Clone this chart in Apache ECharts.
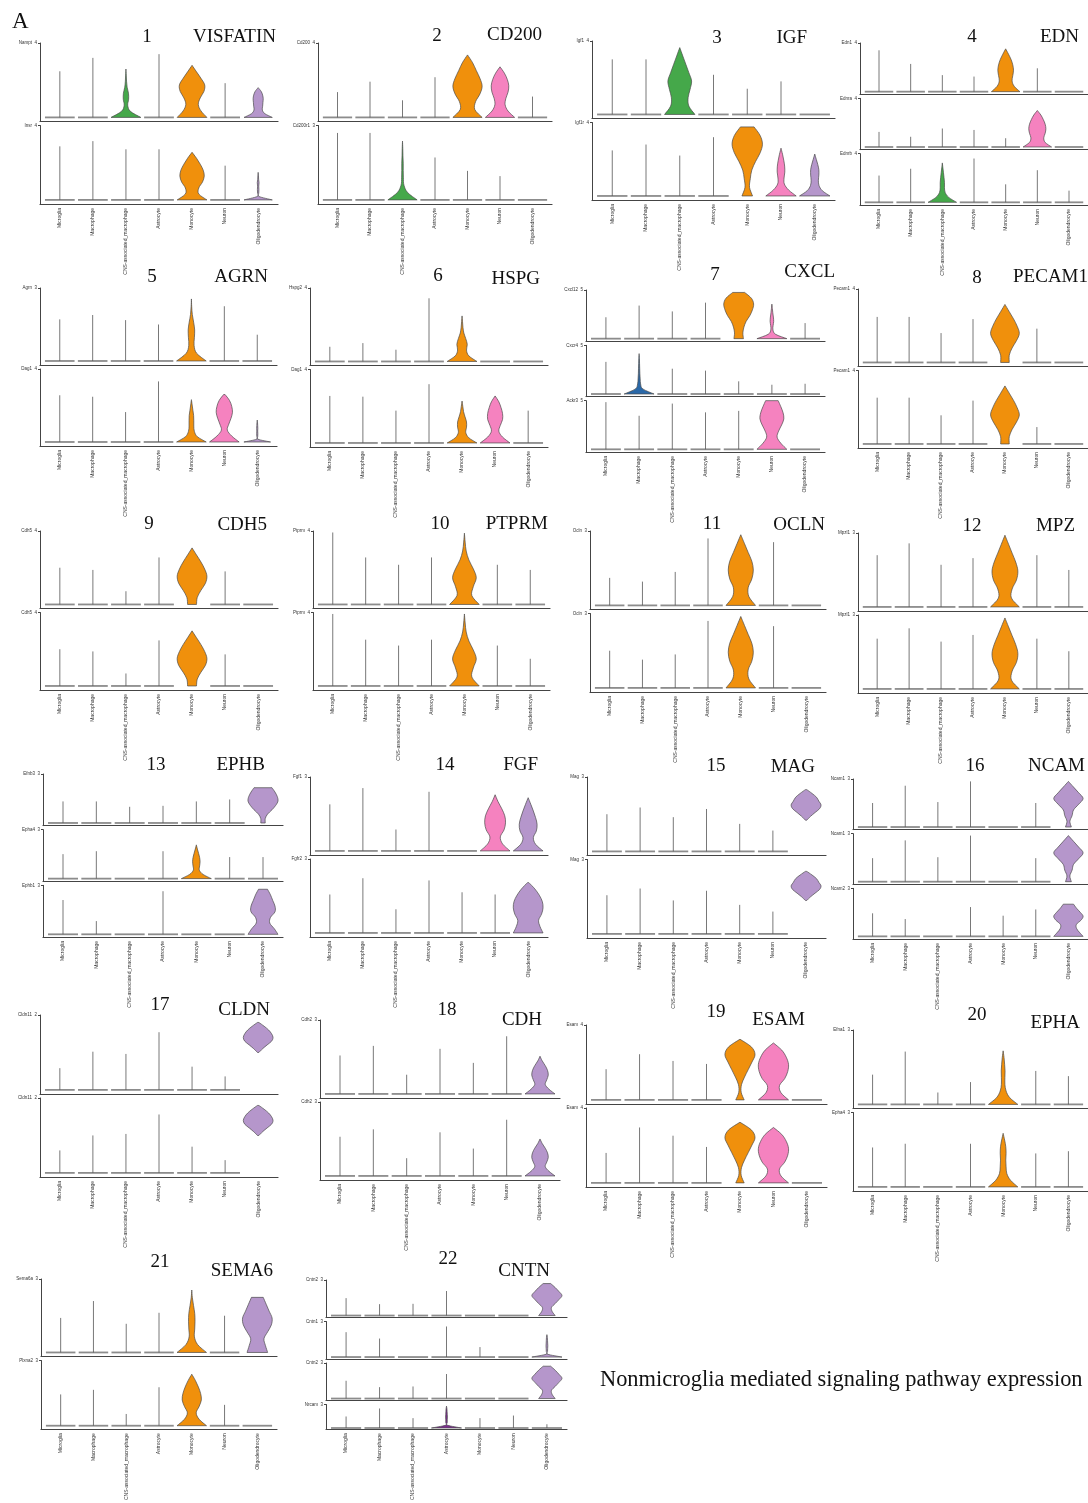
<!DOCTYPE html>
<html><head><meta charset="utf-8">
<script src="https://cdn.jsdelivr.net/npm/echarts@6/dist/echarts.min.js"></script>
<style>html,body{margin:0;padding:0;background:#fff}#c{width:1088px;height:1503px}</style>
</head><body><div id="c"></div><script>
const cellTypes = ['Microglia','Macrophage','CNS-associated_macrophage','Astrocyte','Monocyte','Neuron','Oligodendrocyte'];
const cellColors = ['#e8493f','#2a68a8','#45a84a','#7b2d8e','#f0900c','#f582bf','#b596cb'];
const panelNames = ['VISFATIN','CD200','IGF','EDN','AGRN','HSPG','CXCL','PECAM1','CDH5','PTPRM','OCLN','MPZ','EPHB','FGF','MAG','NCAM','CLDN','CDH','ESAM','EPHA','SEMA6','CNTN'];
const panelGenes = [
 ['Nampt','Insr'],['Cd200','Cd200r1'],['Igf1','Igf1r'],['Edn1','Ednra','Ednrb'],['Agrn','Dag1'],['Hspg2','Dag1'],
 ['Cxcl12','Cxcr4','Ackr3'],['Pecam1','Pecam1'],['Cdh5','Cdh5'],['Ptprm','Ptprm'],['Ocln','Ocln'],['Mpzl1','Mpzl1'],
 ['Efnb3','Epha4','Ephb1'],['Fgf1','Fgfr2'],['Mag','Mag'],['Ncam1','Ncam1','Ncam2'],['Cldn11','Cldn11'],['Cdh2','Cdh2'],
 ['Esam','Esam'],['Efna1','Epha4'],['Sema6a','Plxna2'],['Cntn2','Cntn1','Cntn2','Nrcam']
];
const geneTicks = [[4,4],[4,3],[4,4],[4,4,4],[3,4],[4,4],[5,5,5],[4,4],[4,4],[4,4],[3,3],[3,3],[3,3,3],[3,3],[3,3],[3,3,3],[2,2],[3,3],[4,4],[3,3],[3,3],[3,3,3,3]];
// maximum expression per cell type (order of cellTypes), per gene
const lineTops = [
 [[2.48,3.2,2.6,3.4,2.8,1.84,1.6],[2.88,3.16,2.72,2.72,2.56,1.84,1.48]],
 [[1.36,1.92,0.92,2.16,3.36,2.72,1.12],[2.7,2.7,2.37,1.71,1.17,0.96,0]],
 [[3,3,3.64,2.16,1.4,1.8,0],[2.48,2.8,2.2,3.2,3.76,2.6,2.28]],
 [[3.4,2.28,1.36,1.24,3.52,1.92,0],[1.24,0.84,1.52,1.4,0.72,3,0],[2.2,2.76,3.24,3.6,1.48,2.64,0.96]],
 [[1.71,1.89,1.68,1.5,2.55,2.25,1.08],[2.56,2.48,1.64,3.32,2.32,2.6,1.2]],
 [[0.8,1.0,0.64,3.44,2.48,0,0],[2.56,2.52,1.76,3.2,2.28,2.56,1.76]],
 [[2.2,3.4,2.8,3.7,4.75,3.55,1.6],[3.3,4.15,2.6,2.4,1.3,0.95,1.05],[4.85,3.45,4.7,3.8,3.95,5,0]],
 [[2.48,2.48,1.6,2.36,3.16,1.84,0],[2.52,2.52,1.56,2.36,3.16,0.92,0]],
 [[2,1.88,0.72,2.56,3.08,1.8,0],[2,1.88,0.68,2.48,3,1.72,0]],
 [[3.92,2.56,2.16,2.56,3.88,2.16,1.88],[3.92,2.52,2.2,2.52,3.92,2.2,1.48]],
 [[1.11,0.96,1.35,2.7,2.85,2.55,0],[1.5,1.14,1.35,2.7,2.88,2.49,0]],
 [[2.1,2.58,1.71,1.98,2.91,2.1,1.5],[2.04,2.46,1.92,2.19,2.88,2.04,1.53]],
 [[1.32,1.32,0.99,1.05,1.32,1.44,2.16],[1.5,1.68,0,1.68,2.07,1.32,1.32],[2.1,0.81,0,2.64,0,0,2.76]],
 [[1.89,2.55,0.87,2.4,0,2.28,2.16],[1.56,2.22,0.96,2.13,1.65,1.56,2.04]],
 [[1.5,1.77,1.38,1.71,1.11,0.84,2.49],[1.56,1.83,1.35,1.74,1.17,0.9,2.52]],
 [[1.5,2.58,1.56,2.85,0,1.5,2.85],[1.47,2.58,1.53,2.88,0,1.47,2.88],[1.44,1.08,0,1.83,1.29,1.68,2.01]],
 [[0.58,1.02,0.96,1.54,0.62,0.36,1.8],[0.6,1.0,1.04,1.56,0.7,0.34,1.8]],
 [[1.56,1.95,0.78,1.83,1.26,2.34,1.53],[1.59,1.89,0.72,1.77,1.11,2.28,1.5]],
 [[1.64,2.44,2.08,1.92,3.24,3.04,0],[1.6,2.96,2.52,1.92,3.24,2.96,0]],
 [[1.2,2.13,0.48,0.9,2.16,1.35,1.14],[1.59,1.74,0,1.74,2.16,1.35,1.44]],
 [[1.41,2.1,1.17,1.62,2.55,1.5,2.25],[1.44,1.65,0.54,1.77,2.37,0.96,0]],
 [[1.47,0.96,0.99,2.07,0,0,2.7],[2.1,1.56,0,2.58,0.84,0,1.89],[1.5,0.96,1.02,2.07,0,0,2.73],[1.47,2.49,1.26,2.79,1.26,1.59,0.48]]
];
// violin bodies: [panel, gene index, cell index, minimum, relative widths from min to max]
const violinSpecs = [
 [1,0,2,0, 1,0.3,0.12,0.18,0.17,0.08,0.04,0.02,0],
 [1,0,4,0, 1,0.6,0.42,0.55,0.8,0.85,0.6,0.3,0],
 [1,0,6,0, 0.95,0.45,0.28,0.3,0.32,0.34,0.3,0.2,0],
 [1,1,4,0, 1,0.45,0.45,0.7,0.82,0.75,0.55,0.3,0],
 [1,1,6,0, 0.95,0.06,0.04,0.05,0.04,0.06,0.03,0.02,0],
 [2,0,4,0, 1,0.5,0.55,0.85,1,0.85,0.6,0.35,0],
 [2,0,5,0, 1,0.55,0.35,0.4,0.55,0.6,0.5,0.3,0],
 [2,1,2,0, 1,0.35,0.1,0.06,0.05,0.05,0.03,0.02,0],
 [3,0,2,0, 1,0.6,0.55,0.68,0.78,0.6,0.4,0.2,0],
 [3,1,4,0, 0.35,0.15,0.2,0.3,0.55,0.85,1,0.85,0.45],
 [3,1,5,0, 1,0.5,0.22,0.2,0.25,0.24,0.18,0.1,0],
 [3,1,6,0, 1,0.5,0.28,0.24,0.27,0.27,0.2,0.1,0],
 [4,0,4,0, 1,0.6,0.45,0.5,0.55,0.5,0.38,0.2,0],
 [4,1,5,0, 1,0.55,0.45,0.55,0.6,0.55,0.42,0.25,0],
 [4,2,2,0, 1,0.45,0.2,0.15,0.15,0.12,0.08,0.04,0],
 [5,0,4,0, 1,0.35,0.18,0.2,0.22,0.15,0.06,0.02,0],
 [5,1,4,0, 1,0.4,0.2,0.16,0.16,0.15,0.1,0.05,0],
 [5,1,5,0, 1,0.5,0.2,0.3,0.45,0.55,0.5,0.35,0.05],
 [5,1,6,0, 0.9,0.04,0.03,0.04,0.03,0.04,0.03,0.02,0],
 [6,0,4,0, 1,0.45,0.3,0.35,0.25,0.12,0.06,0.03,0],
 [6,1,4,0, 1,0.45,0.25,0.3,0.3,0.2,0.1,0.05,0],
 [6,1,5,0, 1,0.5,0.25,0.35,0.5,0.5,0.4,0.25,0],
 [7,0,4,0, 0.32,0.28,0.35,0.5,0.75,0.92,1,0.85,0.4],
 [7,0,5,0, 1,0.25,0.07,0.08,0.12,0.1,0.06,0.03,0],
 [7,1,1,0, 1,0.25,0.1,0.07,0.05,0.04,0.03,0.02,0],
 [7,2,5,0, 1,0.6,0.35,0.45,0.65,0.8,0.75,0.6,0.42],
 [8,0,4,0, 0.3,0.3,0.5,0.8,1,0.85,0.6,0.3,0],
 [8,1,4,0, 0.3,0.3,0.5,0.8,1,0.85,0.6,0.3,0],
 [9,0,4,0, 0.3,0.35,0.6,0.9,1,0.85,0.6,0.3,0],
 [9,1,4,0, 0.3,0.35,0.6,0.9,1,0.85,0.6,0.3,0],
 [10,0,4,0, 1,0.5,0.6,0.8,0.6,0.3,0.12,0.05,0],
 [10,1,4,0, 1,0.5,0.6,0.8,0.6,0.3,0.12,0.05,0],
 [11,0,4,0, 1,0.55,0.5,0.75,0.85,0.75,0.5,0.25,0],
 [11,1,4,0, 1,0.55,0.5,0.75,0.85,0.75,0.5,0.25,0],
 [12,0,4,0, 1,0.45,0.5,0.8,0.9,0.75,0.5,0.25,0],
 [12,1,4,0, 1,0.45,0.5,0.8,0.9,0.75,0.5,0.25,0],
 [13,0,6,0, 0.15,0.15,0.3,0.6,0.85,1,0.95,0.8,0.6],
 [13,1,4,0, 1,0.45,0.2,0.22,0.25,0.22,0.15,0.07,0],
 [13,2,6,0, 1,0.75,0.45,0.5,0.8,0.8,0.65,0.5,0.3],
 [14,0,5,0, 1,0.5,0.35,0.6,0.7,0.65,0.45,0.2,0],
 [14,0,6,0, 1,0.5,0.35,0.55,0.6,0.5,0.35,0.18,0],
 [14,1,6,0, 1,0.8,0.7,0.9,1,0.95,0.75,0.45,0.05],
 [15,0,6,1.26, 0.05,0.3,0.6,0.9,1,0.85,0.7,0.4,0.05],
 [15,1,6,1.35, 0.05,0.3,0.6,0.9,1,0.85,0.7,0.4,0.05],
 [16,0,6,0, 0.2,0.1,0.25,0.35,0.7,1,0.7,0.35,0],
 [16,1,6,0, 0.2,0.1,0.25,0.35,0.7,1,0.7,0.35,0],
 [16,2,6,0, 1,0.75,0.55,0.55,0.85,1,0.8,0.55,0.35],
 [17,0,6,1.0, 0.05,0.3,0.6,0.9,1,0.9,0.7,0.4,0.05],
 [17,1,6,1.0, 0.05,0.3,0.6,0.9,1,0.9,0.7,0.4,0.05],
 [18,0,6,0, 1,0.6,0.35,0.45,0.55,0.5,0.35,0.15,0],
 [18,1,6,0, 1,0.6,0.35,0.45,0.55,0.5,0.35,0.15,0],
 [19,0,4,0, 0.28,0.08,0.1,0.3,0.55,0.8,1,0.75,0],
 [19,0,5,0, 1,0.5,0.4,0.75,0.95,1,0.85,0.55,0],
 [19,1,4,0, 0.28,0.08,0.1,0.3,0.55,0.8,1,0.75,0],
 [19,1,5,0, 1,0.5,0.4,0.75,0.95,1,0.85,0.55,0],
 [20,0,4,0, 1,0.45,0.2,0.12,0.12,0.13,0.1,0.06,0],
 [20,1,4,0, 1,0.5,0.25,0.2,0.18,0.2,0.18,0.1,0],
 [21,0,4,0, 1,0.4,0.18,0.2,0.22,0.2,0.12,0.04,0],
 [21,0,6,0, 0.7,0.55,0.45,0.7,0.95,1,0.8,0.6,0.4],
 [21,1,4,0, 1,0.5,0.3,0.5,0.65,0.6,0.45,0.25,0],
 [22,0,6,0, 0.55,0.35,0.3,0.55,0.8,1,0.8,0.55,0.25],
 [22,1,6,0, 1,0.05,0.04,0.05,0.06,0.05,0.04,0.03,0],
 [22,2,6,0, 0.55,0.35,0.3,0.55,0.8,1,0.8,0.55,0.25],
 [22,3,3,0, 1,0.08,0.05,0.05,0.06,0.05,0.04,0.03,0]
];

// ---- layout (pixels) ----
const panelBox = [ // [axis left, top, axis right, bottom]
 [40,43,278,204],[318,43,552,204],[592,41,835,200],[860,43,1100,205],
 [40,288,277,446],[310,288,548,447],[586,290,825,452],[858,289,1095,448],
 [40,531,278,690],[313,531,550,690],[590,531,826,692],[858,533,1095,693],
 [43,774,283,937],[310,777,548,937],[587,777,826,938],[853,779,1092,939],
 [40,1015,278,1177],[320,1020,560,1180],[586,1025,827,1187],[853,1030,1092,1191],
 [41,1279,277,1438],[326,1280,567,1442]
];
const titlePos = [ // [number x, number y, name right x, name y]
 [147,37,276,37],[437,36,542,35],[717,38,807,38],[972,37,1079,37],
 [152,277,268,277],[438,276,540,279],[715,275,835,272],[977,278,1088,277],
 [149,524,267,525],[440,524,548,524],[712,524,825,525],[972,526,1075,526],
 [156,765,265,765],[445,765,538,765],[716,766,815,767],[975,766,1085,766],
 [160,1005,270,1010],[447,1010,542,1020],[716,1012,805,1020],[977,1015,1080,1023],
 [160,1262,273,1271],[448,1259,550,1271]
];

function f(v) { return v.toFixed(2); }
// smooth outline through the sampled widths (Catmull-Rom -> cubic Bezier)
function sidePath(pts) {
  let d = '';
  for (let i = 0; i < pts.length - 1; i++) {
    const p0 = pts[Math.max(i - 1, 0)], p1 = pts[i], p2 = pts[i + 1], p3 = pts[Math.min(i + 2, pts.length - 1)];
    const c1 = [p1[0] + (p2[0] - p0[0]) / 6, p1[1] + (p2[1] - p0[1]) / 6];
    const c2 = [p2[0] - (p3[0] - p1[0]) / 6, p2[1] - (p3[1] - p1[1]) / 6];
    d += ' C' + f(c1[0]) + ' ' + f(c1[1]) + ' ' + f(c2[0]) + ' ' + f(c2[1]) + ' ' + f(p2[0]) + ' ' + f(p2[1]);
  }
  return d;
}

function renderItem(params, api) {
  const c = api.value(0), lo = api.value(1), hi = api.value(2), vid = api.value(3);
  const cx = api.coord([c, 0])[0];
  const unit = api.size([1, 0])[0];
  const half = unit * 0.45;
  const y0 = api.coord([c, lo])[1], y1 = api.coord([c, hi])[1];
  const children = [];
  if (vid < 0) {
    children.push({type:'line', shape:{x1:cx-half, y1:y0, x2:cx+half, y2:y0}, style:{stroke:'#8c8c8c', lineWidth:1.8}});
    if (hi > 0) children.push({type:'line', shape:{x1:cx, y1:y0, x2:cx, y2:y1}, style:{stroke:'#555', lineWidth:0.8}});
  } else {
    const w = violinSpecs[vid].slice(4);
    const n = w.length, right = [], left = [];
    for (let i = 0; i < n; i++) {
      const y = y0 + (y1 - y0) * i / (n - 1);
      right.push([cx + w[i] * half, y]);
      left.unshift([cx - w[i] * half, y]);
    }
    let d = 'M' + f(left[n - 1][0]) + ' ' + f(left[n - 1][1]) + ' L' + f(right[0][0]) + ' ' + f(right[0][1]);
    d += sidePath(right);
    d += ' L' + f(left[0][0]) + ' ' + f(left[0][1]);
    d += sidePath(left);
    d += ' Z';
    children.push({type:'path', shape:{pathData:d},
      style:{fill:cellColors[c], stroke:'#4a4a4a', lineWidth:0.7}});
  }
  return {type:'group', children};
}

const grids = [], xAxes = [], yAxes = [], series = [], graphics = [];
panelBox.forEach((box, p) => {
  const [L, T, R, B] = box;
  const genes = panelGenes[p], n = genes.length, gap = 4;
  const H = (B - (T - gap)) / n;
  genes.forEach((g, gi) => {
    const idx = grids.length;
    const top = T - gap + gi * H + gap;
    grids.push({left:L, top:top, width:R - L, height:H - gap});
    const last = gi === n - 1;
    xAxes.push({type:'value', gridIndex:idx, min:-0.6, max:6.6, splitLine:{show:false},
      axisTick:{show:false},
      axisLine:{show:true, onZero:false, lineStyle:{color:'#444', width:1.2}},
      axisLabel:{show:last, customValues:[0,1,2,3,4,5,6], formatter:v => cellTypes[Math.round(v)],
        rotate:90, fontSize:5, color:'#333', margin:4, fontFamily:'Liberation Sans'}});
    const tk = geneTicks[p][gi];
    yAxes.push({type:'value', gridIndex:idx, min:-tk*0.055, max:tk, splitLine:{show:false},
      axisLine:{show:true, onZero:false, lineStyle:{color:'#444', width:1}},
      axisTick:{show:true, customValues:[tk], length:2, lineStyle:{color:'#444'}},
      axisLabel:{customValues:[tk], formatter:v => genes[gi] + '  ' + v, fontSize:4.5, color:'#333', margin:3, fontFamily:'Liberation Sans'}});
    const data = lineTops[p][gi].map((t, c) => {
      const k = violinSpecs.findIndex(s => s[0] === p + 1 && s[1] === gi && s[2] === c);
      return k >= 0 ? [c, violinSpecs[k][3], t, k] : [c, 0, t, -1];
    });
    series.push({type:'custom', xAxisIndex:idx, yAxisIndex:idx, data, renderItem, clip:false, silent:true, animation:false});
  });
  const tp = titlePos[p];
  graphics.push({type:'text', x:tp[0], y:tp[1], style:{text:String(p + 1), fill:'#111', font:'19px "Liberation Serif"', textAlign:'center', textVerticalAlign:'middle', align:'center', verticalAlign:'middle'}});
  graphics.push({type:'text', x:tp[2], y:tp[3], style:{text:panelNames[p], fill:'#111', font:'19px "Liberation Serif"', textAlign:'right', textVerticalAlign:'middle', align:'right', verticalAlign:'middle'}});
});
graphics.push({type:'text', x:12, y:22, style:{text:'A', fill:'#111', font:'23px "Liberation Serif"', textAlign:'left', textVerticalAlign:'middle', align:'left', verticalAlign:'middle'}});
graphics.push({type:'text', x:600, y:1380, style:{text:'Nonmicroglia mediated signaling pathway expression', fill:'#111', font:'22.4px "Liberation Serif"', textAlign:'left', textVerticalAlign:'middle', align:'left', verticalAlign:'middle'}});

const chart = echarts.init(document.getElementById('c'), null, {renderer:'canvas'});
chart.setOption({animation:false, grid:grids, xAxis:xAxes, yAxis:yAxes, series, graphic:graphics});
</script></body></html>
